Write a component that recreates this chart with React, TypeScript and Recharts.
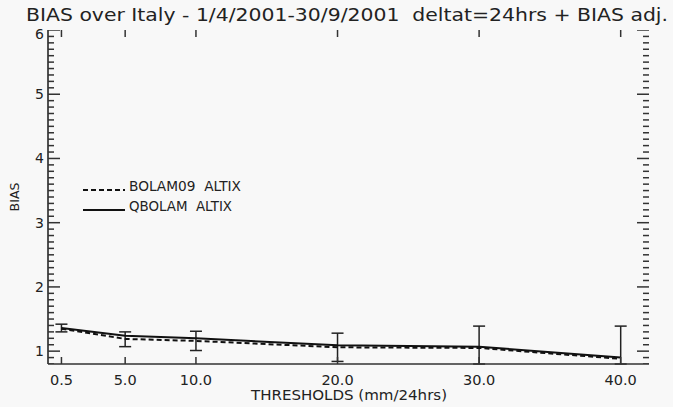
import React from 'react';
import { ComposedChart, Line, Scatter, XAxis, YAxis, ErrorBar, Customized } from 'recharts';

const thresholds = [0.5, 5, 10, 20, 30, 40];
const thresholdLabels = ['0.5', '5.0', '10.0', '20.0', '30.0', '40.0'];
const bolam09 = [1.35, 1.19, 1.16, 1.06, 1.05, 0.88];
const qbolam = [1.36, 1.24, 1.2, 1.09, 1.07, 0.9];
const errLow = [1.3, 1.07, 1.01, 0.84, 0.8, 0.8];
const errHigh = [1.42, 1.3, 1.31, 1.28, 1.39, 1.39];
const yMajor = [1, 2, 3, 4, 5, 6];
const yMinor = Array.from({ length: 53 }, (_, i) => Math.round((0.8 + i * 0.1) * 10) / 10);

const X_DOMAIN: [number, number] = [-0.45, 42];
const Y_DOMAIN: [number, number] = [0.8, 6];

const data = thresholds.map((t, i) => ({
  t,
  bolam09: bolam09[i],
  qbolam: qbolam[i],
  err: [
    Math.round((qbolam[i] - errLow[i]) * 1000) / 1000,
    Math.round((errHigh[i] - qbolam[i]) * 1000) / 1000,
  ],
}));

const leftTicks = yMinor.map((v) => ({ t: X_DOMAIN[0], v, major: yMajor.indexOf(v) >= 0 }));
const rightTicks = yMinor.map((v) => ({ t: X_DOMAIN[1], v, major: yMajor.indexOf(v) >= 0 }));
const bottomTicks = thresholds.map((t) => ({ t, v: Y_DOMAIN[0] }));
const topTicks = thresholds.map((t) => ({ t, v: Y_DOMAIN[1] }));

const FONT = 'DejaVu Sans, sans-serif';
const INK = '#222';
const AXIS = '#333';

const leftLabel = (props: any) => {
  const x = Number(props.x);
  const y = Number(props.y);
  const v = props.payload.value;
  return (
    <text x={x - 4} y={y + (v === 6 ? 9 : 5)} textAnchor="end" fontSize={14} fontFamily={FONT} fill={INK}>
      {v}
    </text>
  );
};

const bottomLabel = (props: any) => {
  const x = Number(props.x);
  const y = Number(props.y);
  return (
    <text x={x} y={y + 21} textAnchor="middle" fontSize={14.5} fontFamily={FONT} fill={INK}>
      {thresholdLabels[props.index]}
    </text>
  );
};

const noLabel = () => <g />;

const lineStyle = { stroke: AXIS, strokeWidth: 1.7 };

const leftTickShape = (p: any) => {
  const len = p.payload && p.payload.major ? 12 : 6;
  return <path d={`M${p.cx},${p.cy}h${len}`} stroke={AXIS} strokeWidth={1.5} fill="none" />;
};
const rightTickShape = (p: any) => {
  const len = p.payload && p.payload.major ? 12 : 6;
  return <path d={`M${p.cx},${p.cy}h${-len}`} stroke={AXIS} strokeWidth={1.5} fill="none" />;
};
const bottomTickShape = (p: any) => (
  <path d={`M${p.cx},${p.cy}v-7`} stroke={AXIS} strokeWidth={1.5} fill="none" />
);
const topTickShape = (p: any) => (
  <path d={`M${p.cx},${p.cy}v7`} stroke={AXIS} strokeWidth={1.5} fill="none" />
);

const Overlay = () => (
  <g fontFamily={FONT} fill={INK}>
    <text x={26} y={21} fontSize={17} textLength={642} lengthAdjust="spacingAndGlyphs" style={{ whiteSpace: 'pre' }}>
      {'BIAS over Italy - 1/4/2001-30/9/2001  deltat=24hrs + BIAS adj.'}
    </text>
    <text x={0} y={0} fontSize={12.5} textAnchor="middle" transform="translate(19,197) rotate(-90)">
      BIAS
    </text>
    <text x={349} y={400} fontSize={14} textAnchor="middle" textLength={196} lengthAdjust="spacingAndGlyphs">
      THRESHOLDS (mm/24hrs)
    </text>
    <line x1={83} y1={190} x2={125} y2={190} stroke="#111" strokeWidth={1.8} strokeDasharray="5 3" />
    <text x={129} y={191} fontSize={13.5} textLength={112} lengthAdjust="spacingAndGlyphs" style={{ whiteSpace: 'pre' }}>
      {'BOLAM09  ALTIX'}
    </text>
    <line x1={83} y1={210} x2={125} y2={210} stroke="#111" strokeWidth={1.8} />
    <text x={129} y={211} fontSize={13.5} textLength={103} lengthAdjust="spacingAndGlyphs" style={{ whiteSpace: 'pre' }}>
      {'QBOLAM  ALTIX'}
    </text>
  </g>
);

export default function App() {
  return (
    <div style={{ position: 'absolute', left: 0, top: 0, width: 673, height: 407, background: '#f8f8f8' }}>
      <ComposedChart
        width={673}
        height={407}
        data={data}
        margin={{ top: 30, right: 24, bottom: 0, left: 0 }}
      >
        <XAxis
          xAxisId="b"
          dataKey="t"
          type="number"
          domain={X_DOMAIN}
          allowDataOverflow
          ticks={thresholds}
          interval={0}
          height={43}
          tickSize={0}
          tickMargin={0}
          tickLine={false}
          axisLine={lineStyle}
          tick={bottomLabel}
        />
        <XAxis
          xAxisId="t"
          orientation="top"
          dataKey="t"
          type="number"
          domain={X_DOMAIN}
          allowDataOverflow
          ticks={thresholds}
          interval={0}
          height={0}
          tickSize={0}
          tickLine={false}
          axisLine={lineStyle}
          tick={noLabel}
        />
        <YAxis
          yAxisId="l"
          type="number"
          domain={Y_DOMAIN}
          allowDataOverflow
          ticks={yMajor}
          interval={0}
          width={48}
          tickSize={0}
          tickMargin={0}
          tickLine={false}
          axisLine={lineStyle}
          tick={leftLabel}
        />
        <YAxis
          yAxisId="r"
          orientation="right"
          type="number"
          domain={Y_DOMAIN}
          allowDataOverflow
          ticks={yMajor}
          interval={0}
          width={0}
          tickSize={0}
          tickLine={false}
          axisLine={lineStyle}
          tick={noLabel}
        />
        <Scatter xAxisId="b" yAxisId="l" data={leftTicks} dataKey="v" shape={leftTickShape} isAnimationActive={false} />
        <Scatter xAxisId="b" yAxisId="l" data={rightTicks} dataKey="v" shape={rightTickShape} isAnimationActive={false} />
        <Scatter xAxisId="b" yAxisId="l" data={bottomTicks} dataKey="v" shape={bottomTickShape} isAnimationActive={false} />
        <Scatter xAxisId="b" yAxisId="l" data={topTicks} dataKey="v" shape={topTickShape} isAnimationActive={false} />
        <Line
          xAxisId="b"
          yAxisId="l"
          dataKey="qbolam"
          stroke="#111"
          strokeWidth={2}
          dot={false}
          isAnimationActive={false}
        >
          <ErrorBar dataKey="err" direction="y" width={6} stroke="#222" strokeWidth={1.5} isAnimationActive={false} />
        </Line>
        <Line
          xAxisId="b"
          yAxisId="l"
          dataKey="bolam09"
          stroke="#111"
          strokeWidth={2}
          strokeDasharray="5 3"
          dot={false}
          isAnimationActive={false}
        />
        <Customized component={<Overlay />} />
      </ComposedChart>
    </div>
  );
}
